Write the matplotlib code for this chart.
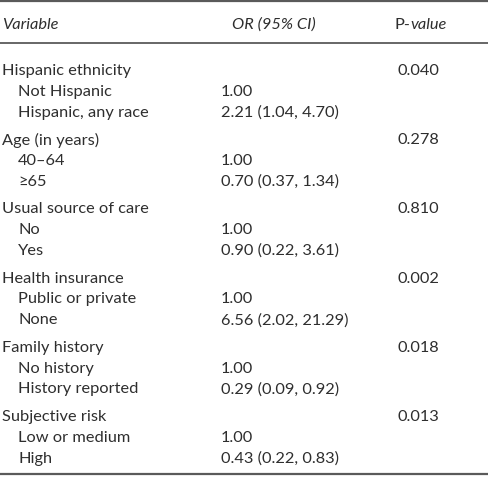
import matplotlib
matplotlib.use("Agg")
import matplotlib.pyplot as plt

plt.rcParams['font.family'] = ['Lato', 'DejaVu Sans']

headers = ["Variable", "OR (95% CI)", "P-value"]
groups = ["Hispanic ethnicity", "Age (in years)", "Usual source of care",
          "Health insurance", "Family history", "Subjective risk"]
group_p = ["0.040", "0.278", "0.810", "0.002", "0.018", "0.013"]
levels = [["Not Hispanic", "Hispanic, any race"],
          ["40–64", "≥65"],
          ["No", "Yes"],
          ["Public or private", "None"],
          ["No history", "History reported"],
          ["Low or medium", "High"]]
odds = [["1.00", "2.21 (1.04, 4.70)"],
        ["1.00", "0.70 (0.37, 1.34)"],
        ["1.00", "0.90 (0.22, 3.61)"],
        ["1.00", "6.56 (2.02, 21.29)"],
        ["1.00", "0.29 (0.09, 0.92)"],
        ["1.00", "0.43 (0.22, 0.83)"]]

W, H = 488, 483
fig = plt.figure(figsize=(W / 100, H / 100), dpi=100)
ax = fig.add_axes([0, 0, 1, 1])
ax.set_xlim(0, W)
ax.set_ylim(H, 0)
ax.axis('off')

tc = '#2e2e2e'
lc = '#5a5a5a'
fs = 11.8

ax.axhline(1, color=lc, lw=1.6)
ax.axhline(43, color=lc, lw=1.3)
ax.axhline(474, color=lc, lw=1.6)

hy = 25
ax.text(2, hy, headers[0], style='italic', fontsize=fs, color=tc, va='center')
ax.text(232, hy, headers[1], style='italic', fontsize=fs, color=tc, va='center')
# "P-" upright followed by italic "value"
t = ax.text(395, hy, headers[2][:2], fontsize=fs, color=tc, va='center')
fig.canvas.draw()
bb = t.get_window_extent()
x_end = ax.transData.inverted().transform((bb.x1, bb.y0))[0]
ax.text(x_end, hy, headers[2][2:], style='italic', fontsize=fs, color=tc, va='center')

y0 = 71
gstep = 69.2
rstep = 20.8
for i, g in enumerate(groups):
    y = y0 + i * gstep
    ax.text(2, y, g, fontsize=fs, color=tc, va='center')
    ax.text(397, y, group_p[i], fontsize=fs, color=tc, va='center')
    for j in range(2):
        yy = y + (j + 1) * rstep
        ax.text(18, yy, levels[i][j], fontsize=fs, color=tc, va='center')
        ax.text(221, yy, odds[i][j], fontsize=fs, color=tc, va='center')

fig.savefig("out.png", dpi=100)
